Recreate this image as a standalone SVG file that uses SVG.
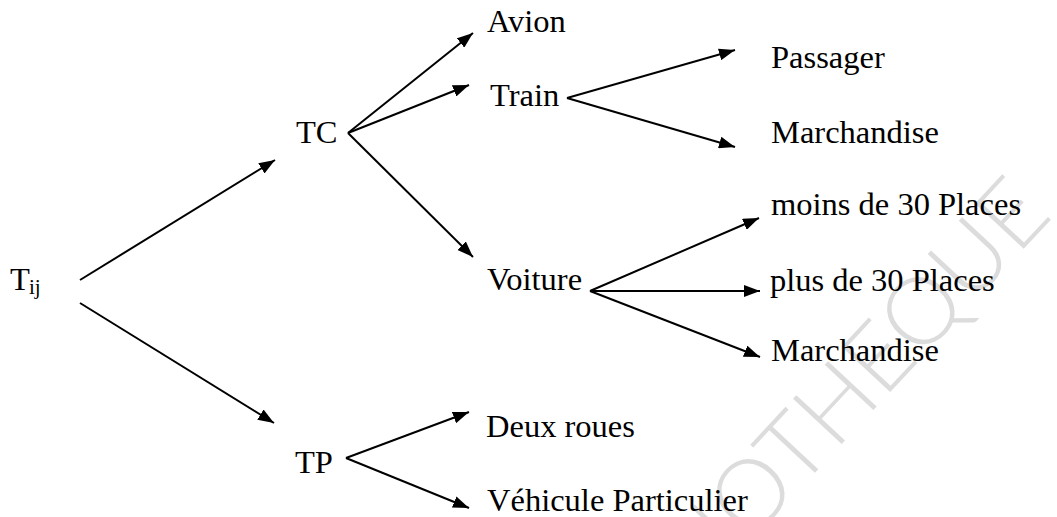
<svg xmlns="http://www.w3.org/2000/svg" width="1057" height="517" viewBox="0 0 1057 517">
<style>
.t{font-family:"Liberation Serif","Times New Roman",serif;font-size:32.5px;fill:#000}
.sub{font-family:"Liberation Serif","Times New Roman",serif;font-size:21px;fill:#000}
.c line{stroke:#000;stroke-width:2;marker-end:url(#ah)}
.wm{font-family:"Lato","Liberation Sans",sans-serif;font-weight:300;font-size:94px;fill:#dcdcdc}
</style>
<defs>
<marker id="ah" viewBox="0 0 16 12" refX="16" refY="6" markerWidth="16" markerHeight="12" markerUnits="userSpaceOnUse" orient="auto">
<path d="M0,0 L16,6 L0,12 z" fill="#000"/>
</marker>
</defs>
<rect width="1057" height="517" fill="#fff"/>
<text class="wm" x="603" y="700" transform="rotate(-47 603 700)">BIBLIOTHEQUE</text>
<g class="c" id="connectors">
<line x1="80" y1="280" x2="275" y2="160"/>
<line x1="80" y1="303" x2="274" y2="423"/>
<line x1="348" y1="133" x2="473" y2="33"/>
<line x1="348" y1="133" x2="469" y2="85"/>
<line x1="348" y1="133" x2="473" y2="257"/>
<line x1="567" y1="98" x2="735" y2="50"/>
<line x1="567" y1="98" x2="735" y2="147"/>
<line x1="590" y1="291" x2="759" y2="218"/>
<line x1="590" y1="291" x2="760" y2="291"/>
<line x1="590" y1="291" x2="760" y2="357"/>
<line x1="346" y1="458" x2="469" y2="412"/>
<line x1="346" y1="458" x2="469" y2="508"/>
</g>
<g id="n-tij"><text class="t" x="10" y="290">T</text><text class="sub" x="29" y="294">ij</text></g>
<g id="n-tc"><text class="t" x="296" y="143">TC</text></g>
<g id="n-tp"><text class="t" x="295" y="473">TP</text></g>
<g id="n-avion"><text class="t" x="487" y="32">Avion</text></g>
<g id="n-train"><text class="t" x="490" y="106">Train</text></g>
<g id="n-voiture"><text class="t" x="487" y="290">Voiture</text></g>
<g id="n-passager"><text class="t" x="771" y="68">Passager</text></g>
<g id="n-march1"><text class="t" x="771" y="143">Marchandise</text></g>
<g id="n-moins"><text class="t" x="771" y="215">moins de 30 Places</text></g>
<g id="n-plus"><text class="t" x="770" y="291">plus de 30 Places</text></g>
<g id="n-march2"><text class="t" x="771" y="361">Marchandise</text></g>
<g id="n-deux"><text class="t" x="486" y="437">Deux roues</text></g>
<g id="n-vp"><text class="t" x="487" y="511">Véhicule Particulier</text></g>
</svg>
